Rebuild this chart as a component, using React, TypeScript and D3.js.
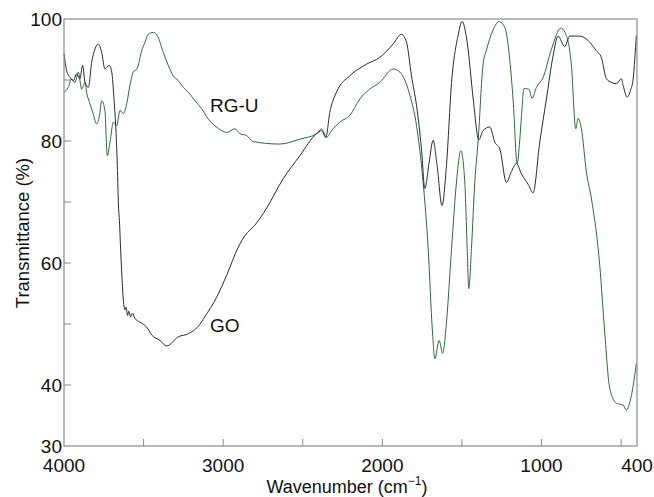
import React from "react";
import * as d3 from "d3";

// GO spectrum (black)
const goWavenumber = [4000,3983,3962,3941,3921,3900,3883,3868,3847,3826,3805,3784,3763,3743,3716,3700,3686,3673,3665,3657,3653,3644,3636,3627,3617,3611,3600,3594,3581,3570,3554,3523,3481,3449,3397,3355,3282,3219,3157,3115,3041,2978,2905,2863,2801,2748,2623,2518,2413,2382,2355,2330,2288,2204,2099,2016,1932,1880,1848,1817,1785,1754,1733,1706,1681,1656,1625,1597,1565,1524,1499,1467,1429,1394,1367,1325,1293,1262,1220,1189,1157,1126,1084,1053,1011,969,927,896,854,823,760,708,656,624,592,561,529,498,487,462,441,424,414,404];
const goTransmittance = [94.3,91.5,90.4,89.9,91.0,90.2,92.4,89.6,88.8,92.9,95.1,95.9,94.5,91.8,92.4,91.3,86.9,81.4,76.0,68.9,67.5,62.1,57.7,53.9,52.3,52.8,51.4,52.1,51.2,51.8,50.9,50.3,49.5,48.2,47.3,46.4,47.9,48.4,49.6,51.2,54.4,58.0,62.6,64.5,66.2,68.1,73.8,77.6,81.2,81.7,80.6,84.7,88.0,90.7,92.6,93.7,95.9,97.5,96.2,90.7,85.8,78.7,72.2,76.5,80.1,76.0,69.4,76.0,89.6,97.3,99.6,96.2,86.9,80.2,81.7,82.3,79.8,78.7,73.2,75.0,76.3,74.6,72.9,71.5,79.8,86.9,94.0,97.2,95.5,97.2,97.2,96.5,94.8,93.7,90.2,89.6,89.4,90.2,89.1,87.2,88.3,90.2,93.4,97.3];

// RG-U spectrum (green)
const rguWavenumber = [4000,3973,3952,3931,3910,3889,3868,3858,3837,3816,3795,3778,3763,3743,3728,3711,3690,3669,3648,3627,3606,3586,3565,3540,3512,3491,3471,3439,3414,3376,3345,3314,3282,3250,3219,3177,3135,3094,3052,3010,2978,2926,2895,2853,2811,2644,2518,2413,2382,2350,2319,2267,2204,2141,2079,2016,1932,1890,1827,1785,1744,1712,1685,1670,1643,1621,1597,1565,1534,1507,1482,1467,1457,1440,1419,1398,1367,1347,1306,1267,1230,1199,1178,1153,1137,1126,1110,1080,1059,1032,990,938,879,844,812,785,770,749,718,686,634,603,571,529,488,467,435,404];
const rguTransmittance = [88.0,88.8,90.2,89.6,91.3,88.5,89.6,88.0,86.1,84.4,82.8,84.0,86.6,85.0,77.6,79.8,83.1,82.5,85.0,84.5,86.1,89.1,91.3,91.9,94.8,96.2,97.5,97.8,97.3,94.5,92.4,90.7,89.9,88.8,88.0,86.6,85.3,83.6,82.5,81.7,81.4,82.0,81.2,80.9,79.9,79.5,80.3,81.2,82.0,80.6,81.7,83.1,84.2,86.9,88.5,89.6,91.8,91.3,87.5,82.5,73.3,62.4,48.7,44.3,47.3,45.2,50.3,62.4,73.3,78.4,73.3,62.4,55.8,62.4,73.3,80.1,92.6,94.8,98.1,99.6,98.6,93.2,86.6,76.3,80.0,84.0,88.6,88.5,87.0,88.8,90.4,95.0,98.5,97.3,92.4,82.0,83.7,82.0,74.9,70.5,59.6,48.7,39.4,37.0,36.7,35.9,38.3,43.5];

const xTickValues = [4000, 3500, 3000, 2500, 2000, 1500, 1000, 500, 400];
const xTickLabels = ["4000", "", "3000", "", "2000", "", "1000", "", "400"];
const yTickValues = [30, 40, 50, 60, 70, 80, 90, 100];
const yTickLabels = ["30", "40", "", "60", "", "80", "", "100"];

const W = 654, H = 497;
const left = 64, right = 637, top = 19, bottom = 446;

export default function App() {
  const x = d3.scaleLinear().domain([4000, 400]).range([left, right]);
  const y = d3.scaleLinear().domain([30, 100]).range([bottom, top]);
  const goPts = goWavenumber.map((w, i) => [x(w), y(goTransmittance[i])]);
  const rguPts = rguWavenumber.map((w, i) => [x(w), y(rguTransmittance[i])]);
  const mk = d3.line<any>().x((d) => d[0]).y((d) => d[1]).curve(d3.curveMonotoneX);
  const axisColor = "#8a8a8a";
  const font = "'Liberation Sans', Arial, Helvetica, sans-serif";
  return (
    <svg width={W} height={H} style={{ position: "absolute", left: 0, top: 0, background: "#fff" }} fontFamily={font}>
      <rect x={0} y={0} width={W} height={H} fill="#fff" />
      <path d={mk(rguPts) || ""} fill="none" stroke="#2f6a3c" strokeWidth={1} strokeLinejoin="round" />
      <path d={mk(goPts) || ""} fill="none" stroke="#2a2a2a" strokeWidth={1} strokeLinejoin="round" />
      <rect x={left} y={top} width={right - left} height={bottom - top} fill="none" stroke={axisColor} strokeWidth={1.2} />
      {xTickValues.map((v, i) => (
        <g key={"xt" + i}>
          {v !== 4000 && v !== 400 && (
            <line x1={x(v)} x2={x(v)} y1={bottom} y2={bottom - 7} stroke={axisColor} strokeWidth={1} />
          )}
          {xTickLabels[i] && (
            <text x={x(v)} y={472} textAnchor="middle" fontSize={19} fill="#111">{xTickLabels[i]}</text>
          )}
        </g>
      ))}
      {yTickValues.map((v, i) => (
        <g key={"yt" + i}>
          {v !== 30 && v !== 100 && (
            <line x1={left} x2={left + 7} y1={y(v)} y2={y(v)} stroke={axisColor} strokeWidth={1} />
          )}
          {yTickLabels[i] && (
            <text x={62} y={y(v)} dy="0.37em" textAnchor="end" fontSize={19} fill="#111">{yTickLabels[i]}</text>
          )}
        </g>
      ))}
      <text x={210} y={111.5} fontSize={19} fill="#111">RG-U</text>
      <text x={210} y={331.5} fontSize={19} fill="#111">GO</text>
      <text transform="translate(29,233) rotate(-90)" textAnchor="middle" fontSize={18.5} fill="#111">Transmittance (%)</text>
      <text x={347} y={493} textAnchor="middle" fontSize={18} fill="#111">
        Wavenumber (cm<tspan fontSize={12} dy={-8}>−1</tspan><tspan dy={8}>)</tspan>
      </text>
    </svg>
  );
}
